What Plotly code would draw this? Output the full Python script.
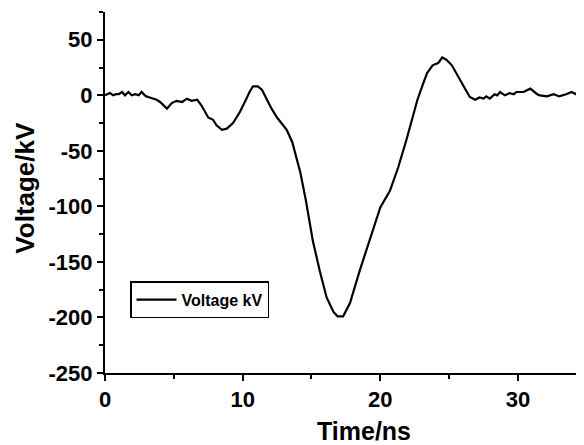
import plotly.graph_objects as go

time_ns = [0.0, 0.2, 0.36, 0.6, 0.8, 1.0, 1.24, 1.45, 1.7, 1.94, 2.2, 2.45, 2.66, 2.9, 3.0, 3.25, 3.5,
           3.75, 4.0, 4.25, 4.5, 4.85, 5.2, 5.6, 5.95, 6.3, 6.7, 7.0, 7.25, 7.5, 7.85, 8.1, 8.5,
           8.85, 9.3, 9.8, 10.2, 10.5, 10.75, 11.1, 11.4, 11.75, 12.1, 12.5, 12.85, 13.2, 13.6,
           13.9, 14.2, 14.6, 14.9, 15.1, 15.6, 16.1, 16.6, 16.9, 17.3, 17.8, 18.5, 19.2, 19.7,
           20.0, 20.7, 21.3, 21.9, 22.3, 22.7, 23.1, 23.4, 23.8, 24.2, 24.5, 24.8, 25.2, 25.5,
           25.8, 26.2, 26.5, 26.9, 27.2, 27.5, 27.7, 27.96, 28.3, 28.5, 28.7, 29.05, 29.4, 29.7,
           29.9, 30.4, 30.9, 31.1, 31.4, 31.6, 32.1, 32.6, 33.0, 33.5, 33.9, 34.2, 34.4, 34.8]
voltage_kv = [0, 1, 2, 0, 1, 1, 3, 0, 3, 0, 1, 0, 3, 0, -1, -2, -3,
              -4, -6, -9, -12, -7, -5, -6, -3, -5, -4, -9, -14, -20, -22, -27, -31,
              -30, -25, -15, -5, 3, 8, 8, 5, -4, -12, -20, -25, -31, -42,
              -57, -70, -95, -118, -131, -158, -182, -195, -199, -199, -187, -158, -131, -112,
              -101, -86, -65, -40, -22, -4, 10, 20, 27, 29, 34, 32, 27, 20,
              13, 5, -1.5, -4, -2, -3, -1, -3, 1, 0, 3, 0, 2, 1,
              3, 3, 6, 4, 1, 0, -1, 1, -1, 1, 3, 1, 4, 1]

x_ticks = [0, 10, 20, 30]
x_tick_labels = ["0", "10", "20", "30"]
y_ticks = [50, 0, -50, -100, -150, -200, -250]
y_tick_labels = ["50", "0", "-50", "-100", "-150", "-200", "-250"]
x_minor = [5, 15, 25]
y_minor = [75, 25, -25, -75, -125, -175, -225]

font_family = "Liberation Sans, Arial, sans-serif"

# page is offset by the 8px default body margin; compensate in geometry
PL, PR, PT, PB = 105, 584, 12, 372.7   # plot area in page pixels


def px(xp):
    return (xp - PL) / (PR - PL)


def py(yp):
    return (PB - yp) / (PB - PT)


fig = go.Figure()
fig.add_trace(go.Scatter(
    x=time_ns, y=voltage_kv, mode="lines", name="<b>Voltage kV</b>",
    line=dict(color="black", width=2.2),
))

fig.update_layout(
    width=576, height=437,
    margin=dict(l=97, r=0, t=4, b=72.3),
    paper_bgcolor="white", plot_bgcolor="white",
    font=dict(family=font_family, color="black"),
    showlegend=True,
    legend=dict(
        x=px(130), y=py(281), xanchor="left", yanchor="top",
        bordercolor="black", borderwidth=1.5, bgcolor="white",
        font=dict(size=16, family=font_family, color="black"),
        itemwidth=40,
    ),
)

fig.update_xaxes(
    range=[0, 34.8], showgrid=False, zeroline=False,
    showline=True, linecolor="black", linewidth=2,
    ticks="outside", ticklen=6, tickwidth=2, tickcolor="black",
    tickmode="array", tickvals=x_ticks, ticktext=[f"<b>{t}</b>" for t in x_tick_labels],
    tickfont=dict(size=22, family=font_family, color="black"),
    minor=dict(ticks="outside", ticklen=4, tickwidth=2, tickcolor="black",
               tickmode="array", tickvals=x_minor),
)
fig.update_yaxes(
    range=[-250, 75], showgrid=False, zeroline=False,
    showline=True, linecolor="black", linewidth=2,
    ticks="outside", ticklen=6, tickwidth=2, tickcolor="black",
    tickmode="array", tickvals=y_ticks, ticktext=[f"<b>{t}</b>" for t in y_tick_labels],
    tickfont=dict(size=22, family=font_family, color="black"),
    minor=dict(ticks="outside", ticklen=4, tickwidth=2, tickcolor="black",
               tickmode="array", tickvals=y_minor),
)

fig.add_annotation(
    text="<b>Time/ns</b>", xref="paper", yref="paper",
    x=px(364), y=py(431),
    xanchor="center", yanchor="middle", showarrow=False,
    font=dict(size=25, family=font_family, color="black"),
)
fig.add_annotation(
    text="<b>Voltage/kV</b>", xref="paper", yref="paper",
    x=px(25), y=py(187.5), textangle=-90,
    xanchor="center", yanchor="middle", showarrow=False,
    font=dict(size=26, family=font_family, color="black"),
)

fig.write_html("out.html")
